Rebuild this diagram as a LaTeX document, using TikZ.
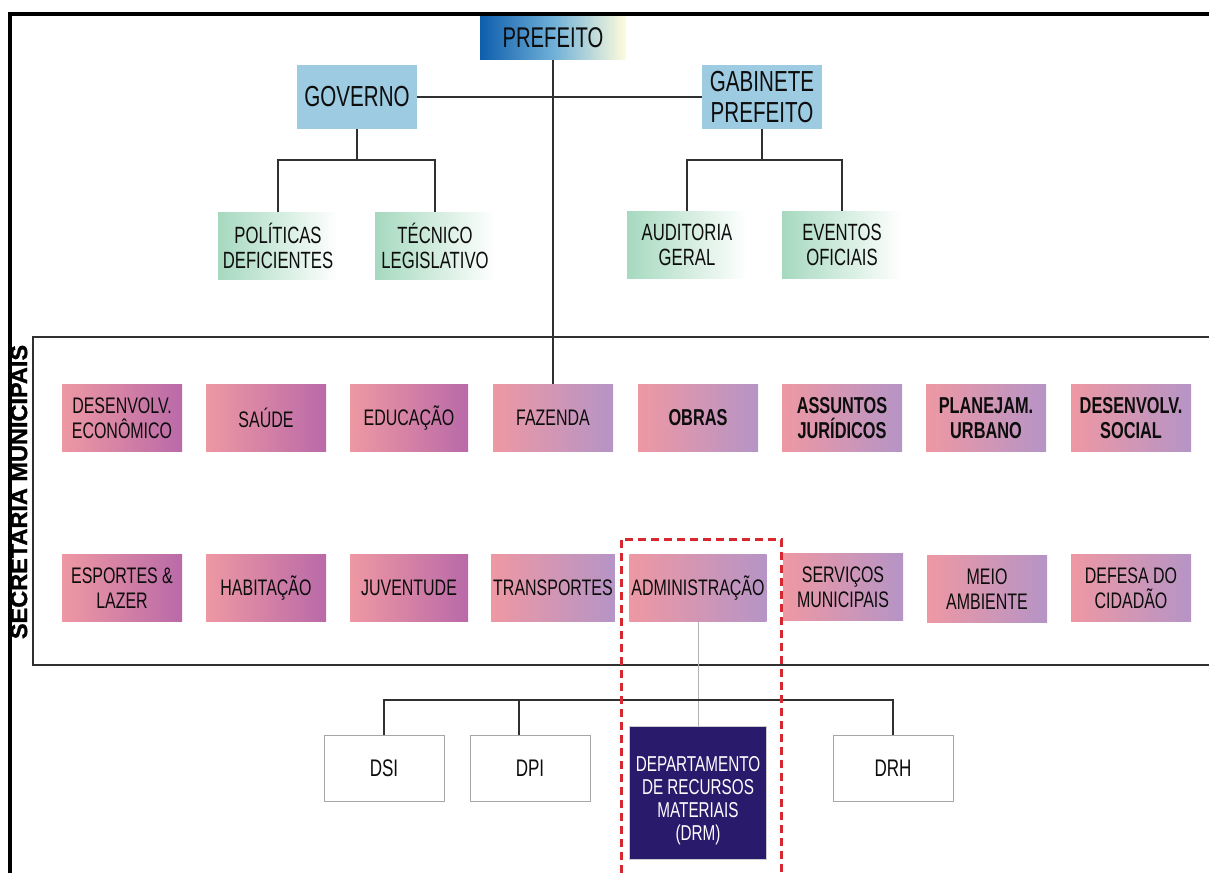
\documentclass[tikz,border=0pt]{standalone}
\usepackage{fontspec}
\setmainfont{Liberation Sans}[FakeStretch=0.71]
\newfontfamily\rotulo{Liberation Sans Bold}[FakeBold=1.2]
\usepackage{xcolor}
\usepackage{tikz}
\usetikzlibrary{positioning,calc}
\definecolor{azulpref}{HTML}{0E5EAC}
\definecolor{azulmeio}{HTML}{6FB0D8}
\definecolor{creme}{HTML}{FFFCDC}
\definecolor{azulgov}{HTML}{9DCBE1}
\definecolor{verdeaux}{HTML}{A6D9BF}
\definecolor{rosa}{HTML}{EE98A3}
\definecolor{magenta}{HTML}{B96AA8}
\definecolor{lilas}{HTML}{B594C6}
\definecolor{marinho}{HTML}{2A1A6C}
\definecolor{vermelho}{HTML}{D7282F}
\definecolor{linha}{HTML}{303030}

\begin{document}
\begin{tikzpicture}[x=1pt,y=-1pt,
  caixa/.style={align=center, inner sep=2pt, text=black!95, font=\fontsize{22.5}{25}\selectfont, minimum width=120, minimum height=67},
  topo/.style={caixa, font=\fontsize{29}{31}\selectfont, fill=azulgov, minimum height=64},
  chefe/.style={topo, font=\fontsize{28.5}{31}\selectfont, minimum width=146, minimum height=43, left color=azulpref, right color=creme, middle color=azulmeio},
  assessoria/.style={caixa, font=\fontsize{23.5}{25}\selectfont, left color=verdeaux, right color=white},
  secA/.style={caixa, left color=rosa, right color=magenta},
  secB/.style={caixa, left color=rosa, right color=lilas},
  negrito/.style={font=\fontsize{23}{25}\selectfont\bfseries},
  depto/.style={caixa, font=\fontsize{24}{25}\selectfont, draw=black!35, fill=white, minimum height=66},
  destaque/.style={caixa, fill=marinho, text=white, font=\fontsize{21.5}{23}\selectfont, minimum width=137, minimum height=133, draw=black!20},
  ligacao/.style={draw=linha, line width=2},
  ligfina/.style={draw=black!30, line width=1}]
  \useasboundingbox (0,0) rectangle (1209,873);
  % moldura externa
  \draw[line width=4, black] (10,873) -- (10,14) -- (1209,14);
  % prefeito e gabinetes
  \node[chefe] (PR) at (553,38) {PREFEITO};
  \node[topo] (GV) at (357,97) {GOVERNO};
  \node[topo] (GB) at (762,97) {GABINETE\\PREFEITO};
  \node[assessoria] (PD) at (278,246) {POLÍTICAS\\DEFICIENTES};
  \node[assessoria] (TL) at (435,246) {TÉCNICO\\LEGISLATIVO};
  \node[assessoria] (AG) at (687,245) {AUDITORIA\\GERAL};
  \node[assessoria] (EO) at (842,245) {EVENTOS\\OFICIAIS};
  % secretarias
  \draw[ligacao] (1209,337) -- (33,337) -- (33,665) -- (1209,665);
  \node[rotate=90, font=\rotulo\fontsize{23.5}{24}\selectfont, text=black] (SM) at (19,492) {SECRETARIA MUNICIPAIS};
  \node[secA] (DE) at (122,418) {DESENVOLV.\\ECONÔMICO};
  \node[secA] (SA) at (266,418) {SAÚDE};
  \node[secA, minimum width=118] (ED) at (409,418) {EDUCAÇÃO};
  \node[secB] (FZ) at (553,418) {FAZENDA};
  \node[secB, negrito] (OB) at (698,418) {OBRAS};
  \node[secB, negrito] (AJ) at (842,418) {ASSUNTOS\\JURÍDICOS};
  \node[secB, negrito] (PU) at (986,418) {PLANEJAM.\\URBANO};
  \node[secB, negrito] (DSo) at (1131,418) {DESENVOLV.\\SOCIAL};
  \node[secA] (EL) at (122,588) {ESPORTES \&\\LAZER};
  \node[secA] (HB) at (266,588) {HABITAÇÃO};
  \node[secA, minimum width=118] (JV) at (409,588) {JUVENTUDE};
  \node[secB] (TR) at (553,588) {TRANSPORTES};
  \node[secB, minimum width=136] (AD) at (698,588) {ADMINISTRAÇÃO};
  \node[secB] (SV) at (843,587) {SERVIÇOS\\MUNICIPAIS};
  \node[secB] (MA) at (987,589) {MEIO\\AMBIENTE};
  \node[secB] (DC) at (1131,588) {DEFESA DO\\CIDADÃO};
  % departamentos
  \node[depto] (DI) at (384,768) {DSI};
  \node[depto] (DP) at (530,768) {DPI};
  \node[destaque] (DM) at (698,793) {\rule{0pt}{30pt}DEPARTAMENTO\\DE RECURSOS\\MATERIAIS\\(DRM)};
  \node[depto] (DH) at (893,768) {DRH};
  % ligacoes
  \coordinate (jg) at (0,160);
  \coordinate (jd) at (0,700);
  \draw[ligacao] (PR.south) -- (FZ.north);
  \draw[ligacao] (GV.east) -- (GB.west);
  \draw[ligacao] (GV.south) -- (GV.south |- jg);
  \draw[ligacao] (PD.north) |- (jg -| TL.north) -- (TL.north);
  \draw[ligacao] (GB.south) -- (GB.south |- jg);
  \draw[ligacao] (AG.north) |- (jg -| EO.north) -- (EO.north);
  \draw[ligfina] (AD.south) -- (DM.north);
  \draw[ligacao] (DI.north) |- (jd -| DH.north) -- (DH.north);
  \draw[ligacao] ($(DP.north)+(-11,0)$) -- ($(DP.north |- jd)+(-11,0)$);
  % destaque administracao
  \draw[vermelho, line width=3, dash pattern=on 8pt off 5pt] (621,873) |- (781,539) -- (781,873);
\end{tikzpicture}
\end{document}
